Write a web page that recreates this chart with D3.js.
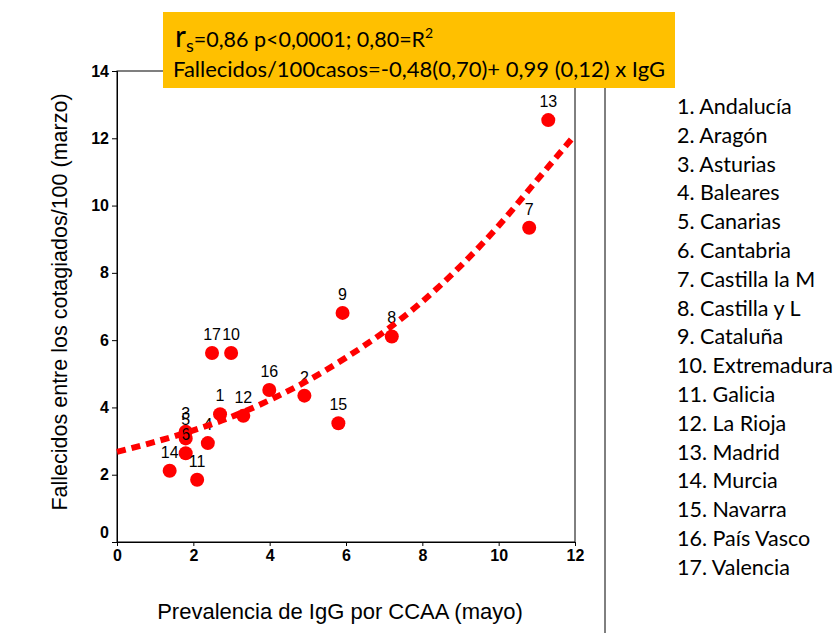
<!DOCTYPE html>
<html>
<head>
<meta charset="utf-8">
<script src="https://cdn.jsdelivr.net/npm/d3@7"></script>
<style>
  body { margin: 0; background: #fff; }
  svg { display: block; }
</style>
</head>
<body>
<div id="chart"></div>
<script>
// Comunidades autonomas: prevalencia IgG (mayo) vs fallecidos/100 contagiados (marzo)
var ids   = [1, 2, 3, 4, 5, 6, 7, 8, 9, 10, 11, 12, 13, 14, 15, 16, 17];
var igg   = [2.70, 4.91, 1.80, 2.38, 1.80, 1.80, 10.80, 7.20, 5.91, 2.99, 2.10, 3.31, 11.30, 1.38, 5.80, 3.99, 2.49];
var fall  = [3.80, 4.35, 3.28, 2.94, 3.08, 2.64, 9.34, 6.11, 6.81, 5.62, 1.85, 3.75, 12.54, 2.12, 3.53, 4.52, 5.62];
var regions = ["Andalucía", "Aragón", "Asturias", "Baleares", "Canarias", "Cantabria",
  "Castilla la M", "Castilla y L", "Cataluña", "Extremadura", "Galicia", "La Rioja",
  "Madrid", "Murcia", "Navarra", "País Vasco", "Valencia"];

// fitted curve
var fitX = [0, 1, 2, 3, 4, 5, 6, 7, 8, 9, 10, 11, 12];
var fitY = [2.68, 2.98, 3.32, 3.72, 4.22, 4.80, 5.48, 6.25, 7.15, 8.20, 9.40, 10.75, 12.10];

var xTicks = [0, 2, 4, 6, 8, 10, 12];
var yTicks = [0, 2, 4, 6, 8, 10, 12, 14];

var width = 839, height = 635;
var svg = d3.select("#chart").append("svg")
  .attr("width", width)
  .attr("height", height);

var x = d3.scaleLinear().domain([0, 12]).range([117, 575]);
var y = d3.scaleLinear().domain([0, 14]).range([542, 71]);

var axisFont = "'Liberation Sans', Arial, sans-serif";
var boxFont = "Lato, 'Open Sans', sans-serif";

// separator line on the right
svg.append("line")
  .attr("x1", 605).attr("x2", 605)
  .attr("y1", 20).attr("y2", 633)
  .attr("stroke", "#000").attr("stroke-width", 1);

// frame
svg.append("rect")
  .attr("x", x(0)).attr("y", y(14))
  .attr("width", x(12) - x(0)).attr("height", y(0) - y(14))
  .attr("fill", "none").attr("stroke", "#000").attr("stroke-width", 1);

var xAxis = svg.append("g")
  .attr("transform", "translate(0," + y(0) + ")")
  .call(d3.axisBottom(x).tickValues(xTicks).tickSize(4).tickPadding(4).tickFormat(d3.format("d")));
var yAxis = svg.append("g")
  .attr("transform", "translate(" + x(0) + ",0)")
  .call(d3.axisLeft(y).tickValues(yTicks).tickSize(5).tickPadding(3).tickFormat(d3.format("d")));

[xAxis, yAxis].forEach(function(g) {
  g.select(".domain").attr("stroke", "#000");
  g.selectAll("text").attr("font-family", axisFont).attr("font-size", 16)
    .attr("font-weight", "bold").attr("fill", "#000");
});
// the y "0" sits a bit above its tick
yAxis.selectAll(".tick").filter(function(d) { return d === 0; })
  .select("text").attr("dy", "-0.3em");

// axis titles
svg.append("text")
  .attr("x", 340).attr("y", 619)
  .attr("text-anchor", "middle")
  .attr("font-family", axisFont).attr("font-size", 22)
  .text("Prevalencia de IgG por CCAA (mayo)");

svg.append("text")
  .attr("transform", "translate(67,302) rotate(-90)")
  .attr("text-anchor", "middle")
  .attr("font-family", axisFont).attr("font-size", 21.5)
  .text("Fallecidos entre los cotagiados/100 (marzo)");

// points
var pts = ids.map(function(id, i) { return {id: id, x: igg[i], y: fall[i]}; });

svg.append("g").selectAll("circle")
  .data(pts).enter().append("circle")
  .attr("cx", function(d) { return x(d.x); })
  .attr("cy", function(d) { return y(d.y); })
  .attr("r", 7)
  .attr("fill", "#ff0000");

svg.append("g").selectAll("text")
  .data(pts).enter().append("text")
  .attr("x", function(d) { return x(d.x); })
  .attr("y", function(d) { return y(d.y) - 13; })
  .attr("text-anchor", "middle")
  .attr("font-family", axisFont).attr("font-size", 16)
  .text(function(d) { return d.id; });

// dashed fit curve
var line = d3.line()
  .x(function(d, i) { return x(fitX[i]); })
  .y(function(d) { return y(d); })
  .curve(d3.curveMonotoneX);

svg.append("path")
  .attr("d", line(fitY))
  .attr("fill", "none")
  .attr("stroke", "#ff0000")
  .attr("stroke-width", 6)
  .attr("stroke-dasharray", "9,6");

// orange stats box
svg.append("rect")
  .attr("x", 163).attr("y", 12)
  .attr("width", 512).attr("height", 76)
  .attr("fill", "#ffc000");

var t1 = svg.append("text")
  .attr("x", 175).attr("y", 47)
  .attr("font-family", boxFont).attr("font-size", 21.5);
t1.append("tspan").attr("font-size", 30).text("r");
t1.append("tspan").attr("font-size", 18).attr("dy", 5).text("s");
t1.append("tspan").attr("dy", -5).text("=0,86 p<0,0001; 0,80=R");
t1.append("tspan").attr("font-size", 14).attr("dy", -9).text("2");

svg.append("text")
  .attr("x", 173).attr("y", 77)
  .attr("font-family", boxFont).attr("font-size", 22)
  .text("Fallecidos/100casos=-0,48(0,70)+ 0,99 (0,12) x IgG");

// legend
svg.append("g").selectAll("text")
  .data(regions).enter().append("text")
  .attr("x", 677)
  .attr("y", function(d, i) { return 114 + i * 28.8; })
  .attr("font-family", boxFont).attr("font-size", 21.5)
  .text(function(d, i) { return (i + 1) + ". " + d; });
</script>
</body>
</html>
